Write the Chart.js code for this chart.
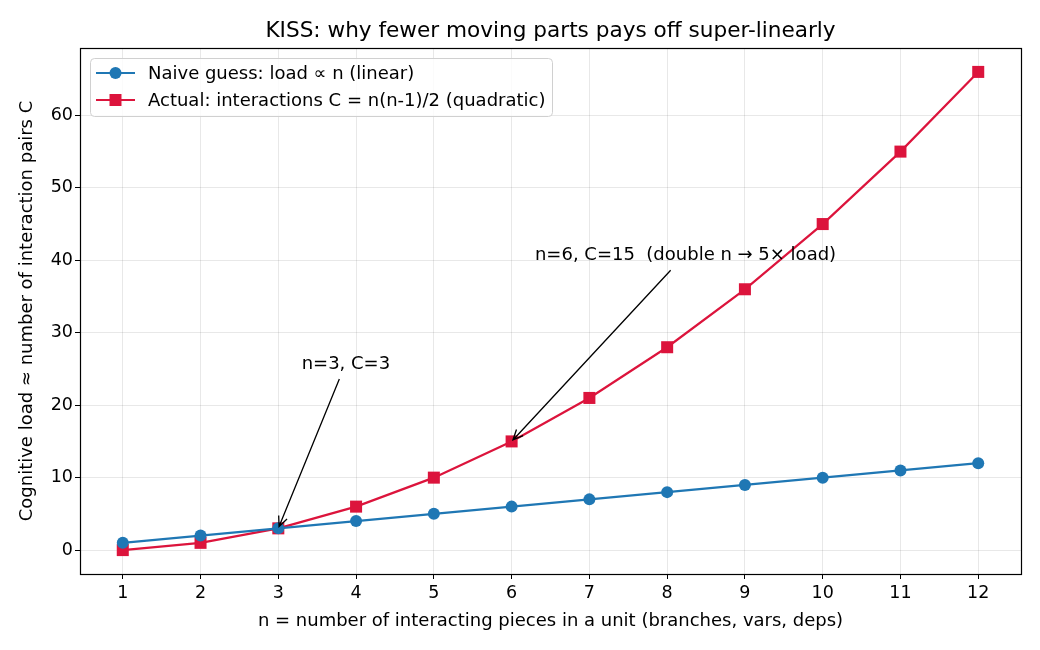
<!DOCTYPE html>
<html>
<head>
<meta charset="utf-8">
<script src="https://cdn.jsdelivr.net/npm/chart.js@4"></script>
<style>
  html, body { margin: 0; padding: 0; background: #fff; }
  #wrap { width: 1040px; height: 650px; }
</style>
</head>
<body>
<div id="wrap"><canvas id="chart" width="1040" height="650"></canvas></div>
<script>
const nValues = [1, 2, 3, 4, 5, 6, 7, 8, 9, 10, 11, 12];
const naiveLoad = [1, 2, 3, 4, 5, 6, 7, 8, 9, 10, 11, 12];
const actualPairs = [0, 1, 3, 6, 10, 15, 21, 28, 36, 45, 55, 66];
const xTicks = [1, 2, 3, 4, 5, 6, 7, 8, 9, 10, 11, 12];
const yTicks = [0, 10, 20, 30, 40, 50, 60];

const seriesNames = [
  "Naive guess: load \u221D n (linear)",
  "Actual: interactions C = n(n-1)/2 (quadratic)",
];
const notes = [
  { text: "n=3, C=3", at: [3, 3], textAt: [3.3, 25] },
  { text: "n=6, C=15  (double n \u2192 5\u00D7 load)", at: [6, 15], textAt: [6.3, 40] },
];

const FONT = "'DejaVu Sans', sans-serif";
const BLUE = "#1f77b4";
const RED = "#dc143c";

function pairs(ys) {
  return nValues.map((n, i) => ({ x: n, y: ys[i] }));
}

// frame, legend, title and arrows drawn like matplotlib
const extras = {
  id: "extras",
  afterDatasetsDraw(chart) {
    const { ctx, chartArea: a, scales } = chart;
    const sx = scales.x, sy = scales.y;
    ctx.save();

    // arrows + annotation text
    ctx.font = "18px " + FONT;
    ctx.fillStyle = "#000";
    ctx.strokeStyle = "#000";
    ctx.lineWidth = 1.3;
    notes.forEach((note) => {
      const tx = sx.getPixelForValue(note.textAt[0]);
      const ty = sy.getPixelForValue(note.textAt[1]);
      const w = ctx.measureText(note.text).width;
      ctx.textAlign = "left";
      ctx.textBaseline = "alphabetic";
      ctx.fillText(note.text, tx, ty);
      const cx = tx + w / 2, cy = ty - 6;
      const px = sx.getPixelForValue(note.at[0]);
      const py = sy.getPixelForValue(note.at[1]);
      const dx = px - cx, dy = py - cy;
      const t = Math.min((w / 2 + 4) / Math.abs(dx), 16 / Math.abs(dy));
      const x0 = cx + dx * t, y0 = cy + dy * t;
      const len = Math.hypot(px - x0, py - y0);
      const ux = (px - x0) / len, uy = (py - y0) / len;
      const x1 = px - ux * 2, y1 = py - uy * 2;
      ctx.beginPath();
      ctx.moveTo(x0, y0);
      ctx.lineTo(x1, y1);
      const hl = 10, hw = 4.5;
      ctx.moveTo(x1 - ux * hl - uy * hw, y1 - uy * hl + ux * hw);
      ctx.lineTo(x1, y1);
      ctx.lineTo(x1 - ux * hl + uy * hw, y1 - uy * hl - ux * hw);
      ctx.stroke();
    });

    // legend
    const lx = a.left + 10, ly = a.top + 10;
    ctx.font = "18px " + FONT;
    const lw = 462, lh = 58;
    ctx.beginPath();
    ctx.roundRect(lx + 0.5, ly + 0.5, lw, lh, 4);
    ctx.fillStyle = "rgba(255,255,255,0.8)";
    ctx.fill();
    ctx.strokeStyle = "#d0d0d0";
    ctx.lineWidth = 1;
    ctx.stroke();
    const rows = [
      { color: BLUE, shape: "circle" },
      { color: RED, shape: "square" },
    ];
    rows.forEach((r, i) => {
      const y = ly + 15 + i * 27;
      ctx.strokeStyle = r.color;
      ctx.lineWidth = 2.2;
      ctx.beginPath();
      ctx.moveTo(lx + 6, y);
      ctx.lineTo(lx + 45, y);
      ctx.stroke();
      ctx.fillStyle = r.color;
      ctx.beginPath();
      if (r.shape === "circle") ctx.arc(lx + 25.5, y, 6, 0, Math.PI * 2);
      else ctx.rect(lx + 19.5, y - 6, 12, 12);
      ctx.fill();
      ctx.fillStyle = "#000";
      ctx.textAlign = "left";
      ctx.textBaseline = "middle";
      ctx.fillText(seriesNames[i], lx + 58, y + 1);
    });

    // full black frame
    ctx.strokeStyle = "#000";
    ctx.lineWidth = 1.2;
    ctx.strokeRect(a.left + 0.5, a.top + 0.5, a.right - a.left, a.bottom - a.top);

    // title
    ctx.font = "21.6px " + FONT;
    ctx.fillStyle = "#000";
    ctx.textAlign = "center";
    ctx.textBaseline = "middle";
    ctx.fillText("KISS: why fewer moving parts pays off super-linearly", (a.left + a.right) / 2, 31);
    ctx.restore();
  },
};

new Chart(document.getElementById("chart"), {
  type: "line",
  data: {
    datasets: [
      {
        label: seriesNames[0],
        data: pairs(naiveLoad),
        borderColor: BLUE,
        backgroundColor: BLUE,
        borderWidth: 2.2,
        pointStyle: "circle",
        pointRadius: 6,
        pointBorderWidth: 0,
        tension: 0,
      },
      {
        label: seriesNames[1],
        data: pairs(actualPairs),
        borderColor: RED,
        backgroundColor: RED,
        borderWidth: 2.2,
        pointStyle: "rect",
        pointRadius: 8.5,
        pointBorderWidth: 0,
        tension: 0,
      },
    ],
  },
  options: {
    responsive: false,
    animation: false,
    layout: { padding: { left: 0, top: 48, right: 19, bottom: 0 } },
    plugins: {
      legend: { display: false },
      tooltip: { enabled: false },
      title: { display: false },
    },
    scales: {
      x: {
        type: "linear",
        min: 0.45,
        max: 12.55,
        afterBuildTicks: (scale) => {
          scale.ticks = xTicks.map((v) => ({ value: v }));
        },
        afterFit: (scale) => {
          scale.height = 76;
        },
        grid: { color: "rgba(0,0,0,0.09)", tickColor: "#000", tickLength: 5 },
        border: { color: "#000" },
        ticks: { color: "#000", font: { family: FONT, size: 17.5 }, padding: 4, maxRotation: 0 },
        title: {
          display: true,
          text: "n = number of interacting pieces in a unit (branches, vars, deps)",
          color: "#000",
          font: { family: FONT, size: 18 },
          padding: { top: 2, bottom: 18 },
        },
      },
      y: {
        min: -3.3,
        max: 69.3,
        afterBuildTicks: (scale) => {
          scale.ticks = yTicks.map((v) => ({ value: v }));
        },
        afterFit: (scale) => {
          scale.width = 80;
        },
        grid: { color: "rgba(0,0,0,0.09)", tickColor: "#000", tickLength: 5 },
        border: { color: "#000" },
        ticks: { color: "#000", font: { family: FONT, size: 17.5 }, padding: 2 },
        title: {
          display: true,
          text: "Cognitive load \u2248 number of interaction pairs C",
          color: "#000",
          font: { family: FONT, size: 18 },
          padding: { top: 17, bottom: 4 },
        },
      },
    },
  },
  plugins: [extras],
});
</script>
</body>
</html>
